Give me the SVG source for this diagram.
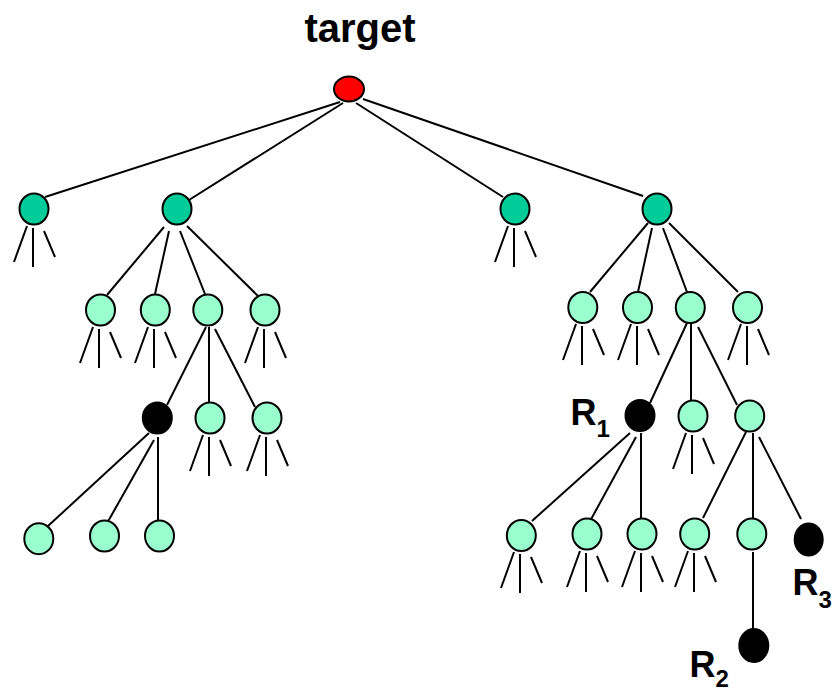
<svg xmlns="http://www.w3.org/2000/svg" xmlns:xlink="http://www.w3.org/1999/xlink" width="836" height="693" viewBox="0 0 836 693">
  <style>
    .edge { stroke: #000; stroke-width: 2; fill: none; }
    .node { stroke: #000; stroke-width: 2; }
    .root { fill: #FF0000; }
    .top { fill: #00CC99; }
    .leaf { fill: #99FFCC; }
    .hit { fill: #000; }
    .label { font-family: "Liberation Sans", Arial, sans-serif; font-weight: bold; fill: #000; }
  </style>
  <defs>
    <!-- three short branches hanging below a node, positioned at the node centre -->
    <g id="stub" class="edge">
      <line x1="-7" y1="17" x2="-20" y2="53"/>
      <line x1="-1" y1="19" x2="-1" y2="58"/>
      <line x1="10" y1="22" x2="21" y2="48"/>
    </g>
  </defs>
  <rect width="836" height="693" fill="#fff"/>

  <g id="connectors" class="edge">
    <!-- root to first level -->
    <line x1="340" y1="102" x2="45" y2="197"/>
    <line x1="343" y1="103" x2="189" y2="200"/>
    <line x1="356" y1="103" x2="503" y2="197"/>
    <line x1="363" y1="99" x2="643" y2="196"/>
    <!-- left subtree -->
    <line x1="164" y1="227" x2="107" y2="295"/>
    <line x1="169" y1="231" x2="155" y2="294"/>
    <line x1="180" y1="231" x2="205" y2="294"/>
    <line x1="187" y1="226" x2="258" y2="296"/>
    <line x1="206" y1="327" x2="167" y2="405"/>
    <line x1="209" y1="327" x2="209" y2="402"/>
    <line x1="215" y1="329" x2="255" y2="407"/>
    <line x1="149" y1="433" x2="48" y2="526"/>
    <line x1="154" y1="440" x2="106" y2="525"/>
    <line x1="158" y1="437" x2="158" y2="522"/>
    <!-- right subtree -->
    <line x1="648" y1="223" x2="590" y2="292"/>
    <line x1="652" y1="228" x2="638" y2="292"/>
    <line x1="663" y1="228" x2="687" y2="292"/>
    <line x1="669" y1="223" x2="738" y2="292"/>
    <line x1="687" y1="323" x2="650" y2="403"/>
    <line x1="691" y1="323" x2="691" y2="400"/>
    <line x1="698" y1="327" x2="737" y2="405"/>
    <line x1="630" y1="433" x2="532" y2="521"/>
    <line x1="636" y1="437" x2="589" y2="523"/>
    <line x1="641" y1="433" x2="641" y2="519"/>
    <line x1="746" y1="432" x2="703" y2="518"/>
    <line x1="753" y1="433" x2="753" y2="518"/>
    <line x1="759" y1="437" x2="801" y2="519"/>
    <line x1="753" y1="552" x2="753" y2="630"/>
    <!-- unexpanded branches -->
    <use xlink:href="#stub" x="34" y="209"/>
    <use xlink:href="#stub" x="515" y="209"/>
    <use xlink:href="#stub" x="100" y="310"/>
    <use xlink:href="#stub" x="155" y="310"/>
    <use xlink:href="#stub" x="265" y="310"/>
    <use xlink:href="#stub" x="210" y="418"/>
    <use xlink:href="#stub" x="267" y="418"/>
    <use xlink:href="#stub" x="583" y="307"/>
    <use xlink:href="#stub" x="638" y="307"/>
    <use xlink:href="#stub" x="748" y="307"/>
    <use xlink:href="#stub" x="693" y="416"/>
    <use xlink:href="#stub" x="521" y="535"/>
    <use xlink:href="#stub" x="587" y="534"/>
    <use xlink:href="#stub" x="642" y="534"/>
    <use xlink:href="#stub" x="695" y="534"/>
  </g>

  <g id="target"><ellipse class="node root" cx="349" cy="89" rx="15" ry="12.5"/><text class="label" x="360" y="42" font-size="40" text-anchor="middle">target</text></g>

  <g id="n1a"><ellipse class="node top" cx="34" cy="209" rx="14.5" ry="15.5"/></g>
  <g id="n1b"><ellipse class="node top" cx="177" cy="209" rx="14.5" ry="15.5"/></g>
  <g id="n1c"><ellipse class="node top" cx="515" cy="209" rx="14.5" ry="15.5"/></g>
  <g id="n1d"><ellipse class="node top" cx="657" cy="209" rx="14.5" ry="15.5"/></g>

  <g id="n2a"><ellipse class="node leaf" cx="100.5" cy="310" rx="14.5" ry="15.5"/></g>
  <g id="n2b"><ellipse class="node leaf" cx="155.3" cy="310" rx="14.5" ry="15.5"/></g>
  <g id="n2c"><ellipse class="node leaf" cx="207.8" cy="310" rx="14.5" ry="15.5"/></g>
  <g id="n2d"><ellipse class="node leaf" cx="265" cy="310" rx="14.5" ry="15.5"/></g>

  <g id="n3a"><ellipse class="node hit" cx="157.3" cy="418" rx="14.5" ry="15.5"/></g>
  <g id="n3b"><ellipse class="node leaf" cx="210" cy="418" rx="14.5" ry="15.5"/></g>
  <g id="n3c"><ellipse class="node leaf" cx="267" cy="418" rx="14.5" ry="15.5"/></g>

  <g id="n4a"><ellipse class="node leaf" cx="38.8" cy="538.7" rx="14.5" ry="15.5"/></g>
  <g id="n4b"><ellipse class="node leaf" cx="104.5" cy="536" rx="14.5" ry="15.5"/></g>
  <g id="n4c"><ellipse class="node leaf" cx="159.5" cy="536" rx="14.5" ry="15.5"/></g>

  <g id="n2e"><ellipse class="node leaf" cx="582.8" cy="307.5" rx="14.5" ry="15.5"/></g>
  <g id="n2f"><ellipse class="node leaf" cx="637.5" cy="307.5" rx="14.5" ry="15.5"/></g>
  <g id="n2g"><ellipse class="node leaf" cx="690.3" cy="307.5" rx="14.5" ry="15.5"/></g>
  <g id="n2h"><ellipse class="node leaf" cx="747.5" cy="307.5" rx="14.5" ry="15.5"/></g>

  <g id="r1"><ellipse class="node hit" cx="640" cy="415.5" rx="14.5" ry="15.5"/><text class="label" x="570.5" y="425" font-size="36">R<tspan font-size="24" dy="12">1</tspan></text></g>
  <g id="n3e"><ellipse class="node leaf" cx="693" cy="416" rx="14.5" ry="15.5"/></g>
  <g id="n3f"><ellipse class="node leaf" cx="749.7" cy="416" rx="14.5" ry="15.5"/></g>

  <g id="n4e"><ellipse class="node leaf" cx="521.3" cy="535.5" rx="14.5" ry="15.5"/></g>
  <g id="n4f"><ellipse class="node leaf" cx="587" cy="534" rx="14.5" ry="15.5"/></g>
  <g id="n4g"><ellipse class="node leaf" cx="642" cy="534" rx="14.5" ry="15.5"/></g>
  <g id="n4h"><ellipse class="node leaf" cx="694.7" cy="534" rx="14.5" ry="15.5"/></g>
  <g id="n4i"><ellipse class="node leaf" cx="751.8" cy="534" rx="14.5" ry="15.5"/></g>

  <g id="r3"><ellipse class="node hit" cx="808.7" cy="539.5" rx="14" ry="16"/><text class="label" x="792.5" y="595" font-size="36">R<tspan font-size="24" dy="13">3</tspan></text></g>
  <g id="r2"><ellipse class="node hit" cx="753.8" cy="645.5" rx="14.5" ry="16.5"/><text class="label" x="689.5" y="677" font-size="36">R<tspan font-size="24" dy="10">2</tspan></text></g>
</svg>
